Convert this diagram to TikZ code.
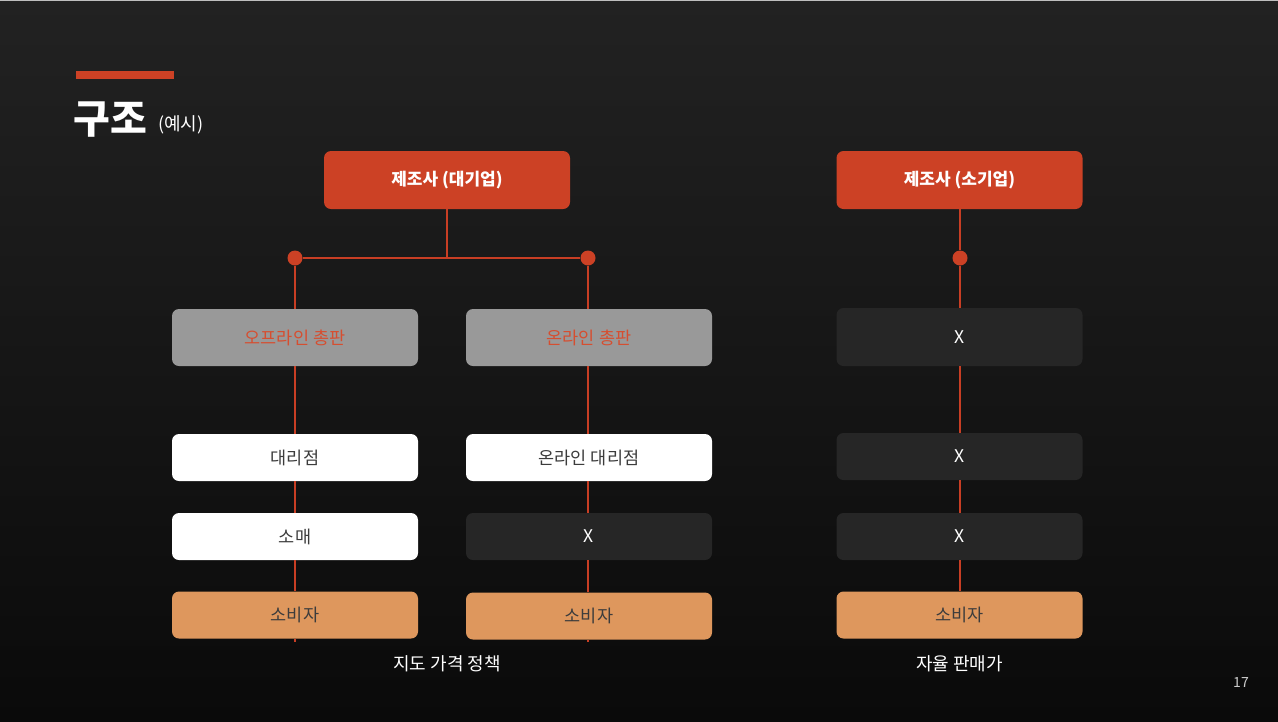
\documentclass[tikz,border=0pt]{standalone}
\usepackage{fontspec}
\setmainfont{Noto Sans CJK KR}
\newfontfamily\kr{Noto Sans CJK KR}
\definecolor{bgtop}{RGB}{34,34,34}
\definecolor{bgbot}{RGB}{10,10,10}
\definecolor{brand}{RGB}{204,65,37}
\definecolor{linec}{RGB}{200,62,36}
\definecolor{greybox}{RGB}{153,153,153}
\definecolor{darkbox}{RGB}{38,38,38}
\definecolor{orangebox}{RGB}{222,151,93}
\definecolor{darktext}{RGB}{60,60,60}
\definecolor{redtext}{RGB}{214,78,48}
\tikzset{
  box/.style={rounded corners=7pt, minimum width=246pt, minimum height=47pt, inner sep=0pt, font=\kr\fontsize{17.5}{20}\selectfont},
  topbox/.style={box, fill=brand, minimum height=58pt, text=white, font=\kr\bfseries\fontsize{17}{20}\selectfont},
  greyb/.style={box, fill=greybox, minimum height=57pt, text=redtext},
  whiteb/.style={box, fill=white, text=darktext},
  darkb/.style={box, fill=darkbox, text=white},
  orangeb/.style={box, fill=orangebox, text=darktext},
  dot/.style={circle, fill=brand, minimum size=15pt, inner sep=0pt},
  conn/.style={draw=linec, line width=1.2pt},
  caption/.style={text=white, font=\kr\fontsize{18}{22}\selectfont}
}
\begin{document}
\begin{tikzpicture}[x=1pt,y=-1pt]
\useasboundingbox (0,0) rectangle (1278,721);
\shade[top color=bgtop, bottom color=bgbot] (0,0) rectangle (1278,721);
\fill[white!75!black] (0,0) rectangle (1278,1.2);
% title
\fill[brand] (76,71) rectangle (174,79);
\node[anchor=base west, inner sep=0pt, text=white, font=\kr\bfseries\fontsize{40}{44}\selectfont] (title) at (73,133) {구조};
\node[anchor=base west, inner sep=0pt, text=white, font=\kr\fontsize{18}{22}\selectfont] (sub) at (158,130) {(예시)};
% top nodes
\node[topbox] (t1) at (447,180) {제조사 (대기업)};
\node[topbox] (t2) at (959.5,180) {제조사 (소기업)};
% dots
\node[dot] (dl) at (295,258) {};
\node[dot] (dm) at (588,258) {};
\node[dot] (dr) at (960,258) {};
\coordinate (tj) at (447,258);
% column left
\node[greyb] (a1) at (295,337.5) {오프라인 총판};
\node[whiteb] (a2) at (295,457.5) {대리점};
\node[whiteb] (a3) at (295,536.5) {소매};
\node[orangeb] (a4) at (295,615) {소비자};
% column middle
\node[greyb] (b1) at (589,337.5) {온라인 총판};
\node[whiteb] (b2) at (589,457.5) {온라인 대리점};
\node[darkb] (b3) at (589,536.5) {X};
\node[orangeb] (b4) at (589,616) {소비자};
% column right
\node[darkb, minimum height=58pt] (c1) at (959.5,337) {X};
\node[darkb] (c2) at (959.5,456.5) {X};
\node[darkb] (c3) at (959.5,536.5) {X};
\node[orangeb] (c4) at (959.5,615) {소비자};
% connectors
\draw[conn] (t1.south) -- (tj);
\draw[conn] (dl) -- (dm);
\draw[conn] (t2.south -| dr) -- (dr);
\draw[conn] (dl) -- (a1.north -| dl);
\draw[conn] (a1.south -| dl) -- (a2.north -| dl);
\draw[conn] (a2.south -| dl) -- (a3.north -| dl);
\draw[conn] (a3.south -| dl) -- (a4.north -| dl);
\coordinate (aend) at ([yshift=-3pt]a4.south -| dl);
\draw[conn] (a4.south -| dl) -- (aend);
\draw[conn] (dm) -- (b1.north -| dm);
\draw[conn] (b1.south -| dm) -- (b2.north -| dm);
\draw[conn] (b2.south -| dm) -- (b3.north -| dm);
\draw[conn] (b3.south -| dm) -- (b4.north -| dm);
\coordinate (bend) at ([yshift=-2pt]b4.south -| dm);
\draw[conn] (b4.south -| dm) -- (bend);
\draw[conn] (dr) -- (c1.north -| dr);
\draw[conn] (c1.south -| dr) -- (c2.north -| dr);
\draw[conn] (c2.south -| dr) -- (c3.north -| dr);
\draw[conn] (c3.south -| dr) -- (c4.north -| dr);
% captions
\node[caption] (cap1) at (447,664) {지도 가격 정책};
\node[caption] (cap2) at (959.5,664) {자율 판매가};
\node[text=white!80!black, font=\kr\fontsize{14}{16}\selectfont] (pg) at (1241,682) {17};
\end{tikzpicture}
\end{document}
